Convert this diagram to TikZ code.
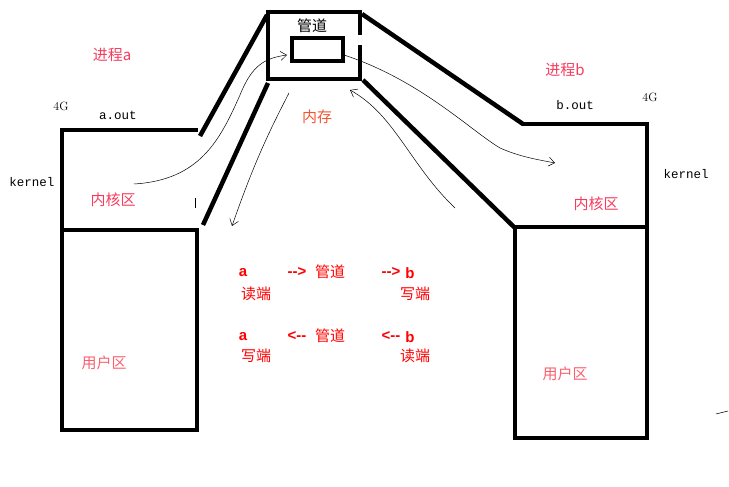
\documentclass[tikz,border=0pt]{standalone}
\usepackage{fontspec}
\usepackage{tikz}
\usetikzlibrary{arrows.meta,positioning,calc}
\newfontfamily\cjk{Noto Sans CJK SC}
\newfontfamily\monofont{Liberation Mono}
\newfontfamily\arialfont{Liberation Sans}
\definecolor{PinkRed}{RGB}{245,60,95}
\definecolor{OrangeRed}{RGB}{240,85,50}
\definecolor{LightRed}{RGB}{250,95,110}
\definecolor{PureRed}{RGB}{255,0,0}

\begin{document}
\begin{tikzpicture}[
  x=1pt,y=-1pt,
  wall/.style={line width=4.5pt,line cap=butt},
  pipe/.style={line width=3.5pt},
  flow/.style={line width=0.5pt,-{Straight Barb[length=6pt,width=9pt]}},
  label/.style={font=\cjk\fontsize{15}{15}\selectfont,inner sep=0pt},
  mono/.style={font=\monofont\fontsize{12.5}{12.5}\selectfont,inner sep=0pt},
  redtxt/.style={font=\cjk\fontsize{15}{15}\selectfont,text=PureRed,inner sep=0pt},
  redlat/.style={font=\arialfont\bfseries\fontsize{15}{15}\selectfont,text=PureRed,inner sep=0pt}
]
\useasboundingbox (0,0) rectangle (729,487);

% process a
\draw[wall] (198,130) -- (62,130) -- (62,430) -- (197,430) -- (197,228);
\draw[wall] (62,230) -- (199,230);
\draw[wall] (200,136) -- (267,15);
\draw[wall] (203,225) -- (268,83);
\draw[line width=1pt] (195,198) -- (195,208);

% process b
\draw[wall] (522,124) -- (647,124) -- (647,438) -- (515,438) -- (515,225);
\draw[wall] (513,227) -- (647,227);
\draw[wall] (362,14) -- (523,124);
\draw[wall] (363,80) -- (515,228);

% the pipe in memory
\draw[wall] (360,35) -- (360,12) -- (268,12) -- (268,79) -- (360,79) -- (360,45);
\draw[pipe] (292,38) rectangle (343,61);
\draw[line width=0.5pt] (716,414) -- (728,411);

% labels
\node[label,text=PinkRed] (pa) at (112,55) {进程a};
\node[label,text=PinkRed] (pb) at (565,70) {进程b};
\node[label] (gd) at (312,26) {管道};
\node[label,text=OrangeRed] (nc) at (317,117) {内存};
\node[label,text=PinkRed] (ka) at (113,200) {内核区};
\node[label,text=PinkRed] (kb) at (596,204) {内核区};
\node[label,text=LightRed] (ua) at (104,363) {用户区};
\node[label,text=LightRed] (ub) at (565,374) {用户区};
\node[font=\fontsize{12}{12}\selectfont,inner sep=0pt] (ga) at (61,106) {4G};
\node[font=\fontsize{12}{12}\selectfont,inner sep=0pt] (gb) at (650,97) {4G};
\node[mono] (oa) at (118,115) {a.out};
\node[mono] (ob) at (575,105) {b.out};
\node[mono] (kla) at (32,182) {kernel};
\node[mono] (klb) at (686,174) {kernel};

% read / write ends
\node[redlat] (a1) at (243,273) {a};
\node[redlat] (r1) at (297,272) {-{}->};
\node[redtxt] (p1) at (330,272) {管道};
\node[redlat] (r2) at (391,272) {-{}->};
\node[redlat] (b1) at (410,273) {b};
\node[redtxt] (e1) at (256,294) {读端};
\node[redtxt] (e2) at (415,294) {写端};
\node[redlat] (a2) at (243,337) {a};
\node[redlat] (l1) at (297,336) {<-{}-};
\node[redtxt] (p2) at (330,336) {管道};
\node[redlat] (l2) at (391,336) {<-{}-};
\node[redlat] (b2) at (410,337) {b};
\node[redtxt] (e3) at (256,356) {写端};
\node[redtxt] (e4) at (415,356) {读端};

% data flow
\coordinate (fa0) at (134,184);
\coordinate (fa1) at (287,55);
\draw[flow] (fa0) .. controls (200,180) and (220,140) .. (240,95)
  .. controls (252,65) and (265,58) .. (fa1);
\coordinate (fb0) at (289,93);
\coordinate (fb1) at (232,226);
\draw[flow] (fb0) .. controls (270,130) and (255,160) .. (fb1);
\coordinate (fc0) at (344,55);
\coordinate (fc1) at (555,163);
\draw[flow] (fc0) .. controls (420,80) and (470,130) .. (500,148)
  .. controls (520,157) and (540,160) .. (fc1);
\coordinate (fd0) at (455,208);
\coordinate (fd1) at (350,90);
\draw[flow] (fd0) .. controls (410,165) and (395,115) .. (fd1);
\end{tikzpicture}
\end{document}
